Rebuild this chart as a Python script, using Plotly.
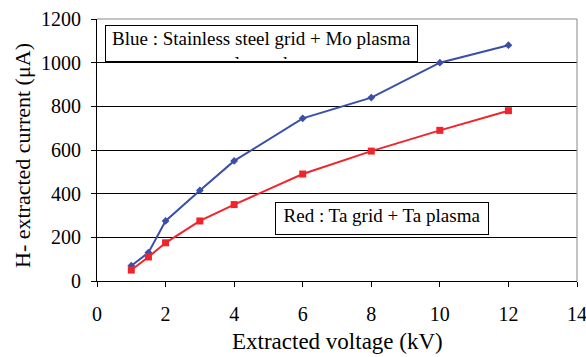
import plotly.graph_objects as go

voltage = [1, 1.5, 2, 3, 4, 6, 8, 10, 12]
blue_current = [70, 130, 275, 415, 550, 745, 840, 1000, 1080]
red_current = [50, 110, 175, 275, 350, 490, 595, 690, 780]

x_ticks = [0, 2, 4, 6, 8, 10, 12, 14]
y_ticks = [0, 200, 400, 600, 800, 1000, 1200]

W, H = 586, 357
L, R, T, B = 97, 9, 19, 76
pw, ph = W - L - R, H - T - B

def px(x):
    return (x - L) / pw

def py(y):
    return (H - B - y) / ph

font = "Times New Roman, Liberation Serif, serif"

fig = go.Figure()
fig.add_trace(go.Scatter(x=voltage, y=blue_current, mode="lines+markers",
                         line=dict(color="#3a4fa8", width=2),
                         marker=dict(symbol="diamond", size=6, color="#3a4fa8"),
                         showlegend=False))
fig.add_trace(go.Scatter(x=voltage, y=red_current, mode="lines+markers",
                         line=dict(color="#f0242a", width=2),
                         marker=dict(symbol="square", size=7, color="#f0242a"),
                         showlegend=False))

fig.update_layout(
    width=W, height=H,
    margin=dict(l=L, r=R, t=T, b=B, autoexpand=False),
    paper_bgcolor="white", plot_bgcolor="white",
    font=dict(family=font, size=20, color="black"),
    xaxis=dict(range=[0, 14], tickvals=x_ticks, ticks="outside", ticklen=5,
               tickcolor="black", showline=True, linecolor="black", linewidth=1,
               showgrid=False, zeroline=False, automargin=False,
               ticklabelstandoff=10, ticklabeloverflow="allow",
               tickfont=dict(size=20, family=font)),
    yaxis=dict(range=[0, 1200], tickvals=y_ticks, ticks="outside", ticklen=5,
               tickcolor="black", showline=True, linecolor="black", linewidth=1,
               showgrid=True, gridcolor="black", gridwidth=1, zeroline=False, automargin=False,
               ticklabelstandoff=6, ticklabeloverflow="allow",
               tickfont=dict(size=20, family=font)),
    shapes=[
        dict(type="line", xref="paper", yref="paper", x0=0, x1=1, y0=1, y1=1,
             line=dict(color="#888888", width=1)),
        dict(type="line", xref="paper", yref="paper", x0=1, x1=1, y0=0, y1=1,
             line=dict(color="#888888", width=1)),
    ],
    annotations=[
        dict(xref="paper", yref="paper", x=px(337), y=py(342), xanchor="center", yanchor="middle",
             text="Extracted voltage (kV)", showarrow=False,
             font=dict(size=23, family=font)),
        dict(xref="paper", yref="paper", x=px(23), y=py(156), xanchor="center", yanchor="middle",
             text="H- extracted current (μA)", showarrow=False, textangle=-90,
             font=dict(size=22, family=font)),
        dict(xref="paper", yref="paper", x=px(105), y=py(25), xanchor="left", yanchor="top",
             text="Blue : Stainless steel grid + Mo plasma<br>electrode",
             showarrow=False, width=307, height=31, valign="top", align="center",
             bgcolor="white", bordercolor="black", borderwidth=1, borderpad=2,
             font=dict(size=19, family=font)),
        dict(xref="paper", yref="paper", x=px(275), y=py(202), xanchor="left", yanchor="top",
             text="Red : Ta grid + Ta plasma<br>electrode",
             showarrow=False, width=208, height=27, valign="top", align="center",
             bgcolor="white", bordercolor="black", borderwidth=1, borderpad=2,
             font=dict(size=19, family=font)),
    ],
)

fig.write_html("out.html", config={"displayModeBar": False},
               post_script="document.body.style.margin='0';")
